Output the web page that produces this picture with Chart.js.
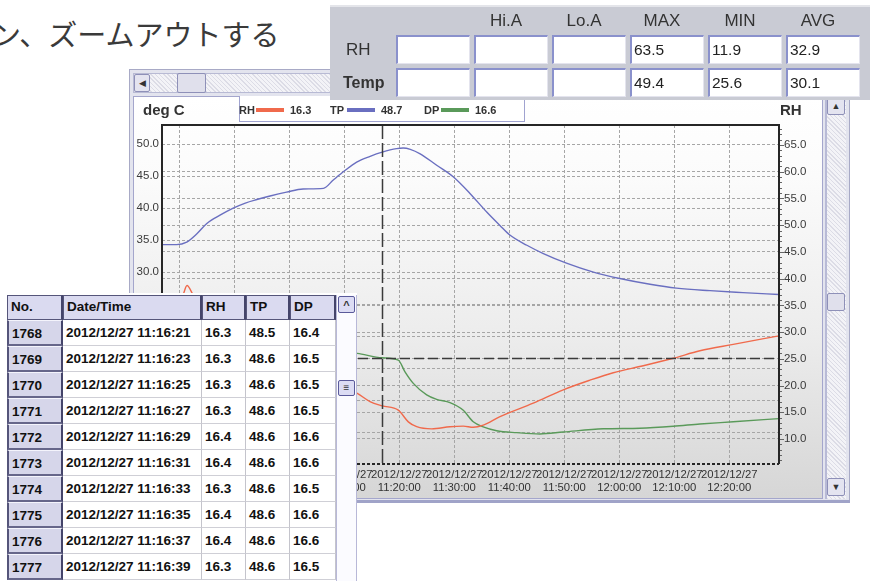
<!DOCTYPE html>
<html><head><meta charset="utf-8">
<script src="https://cdn.jsdelivr.net/npm/chart.js@4.4.1/dist/chart.umd.min.js"></script>
<style>
*{box-sizing:border-box;margin:0;padding:0}
html,body{width:870px;height:581px;overflow:hidden;background:#fff;font-family:"Liberation Sans",Arial,sans-serif}
#root{position:relative;width:870px;height:581px;overflow:hidden;background:#fff}
.a{position:absolute}
#jp{position:absolute;left:-8px;top:18px;font-family:"Noto Sans CJK JP",sans-serif;font-size:29px;line-height:30px;color:#3a3a3a;white-space:nowrap}
.hatch{background:repeating-linear-gradient(45deg,#dcdce6 0 1px,#f3f3f7 1px 3px)}
.btn{position:absolute;background:#e4e4f0;border:1px solid #8e90b8;border-radius:2px;color:#333;font-size:9px;text-align:center}
#panel{position:absolute;left:133px;top:96px;width:690px;height:403px;border:1px solid #a4a6cc;background:linear-gradient(#ffffff 0%,#fbfbfb 20%,#ececec 60%,#d6d6d6 100%)}
.stb{position:absolute;background:#fff;border-top:2px solid #8a91cc;border-left:2px solid #8a91cc;border-right:1px solid #e4e4ee;border-bottom:1px solid #e4e4ee;font-size:15.5px;color:#222;padding-left:2px;line-height:26px}
.sth{position:absolute;font-size:17px;color:#333;text-align:center;width:70px;line-height:20px}
.cell{position:absolute;font-weight:bold;font-size:13.5px;color:#111;line-height:25px;padding-left:3px;white-space:nowrap;overflow:hidden}
.lg{position:absolute;font-weight:bold;font-size:11px;color:#333;line-height:12px;top:104px}
.lbar{position:absolute;height:4px;top:108px}
</style></head><body>
<div id="root">
  <div id="jp">ン、ズームアウトする</div>

  <div id="win" class="a" style="left:129px;top:69px;width:721px;height:432px;background:#e3e4ee;border:1px solid #a8aac6"></div>
  <div class="a hatch" style="left:133px;top:73px;width:690px;height:20px;border:1px solid #b8bad4"></div>
  <div class="btn" style="left:134px;top:74px;width:16px;height:18px;line-height:16px">&#9664;</div>
  <div class="btn" style="left:177px;top:73px;width:29px;height:20px;background:#e0e0ec"></div>

  <div id="panel"><canvas id="c" width="688" height="401" style="position:absolute;left:0;top:0"></canvas></div>
  <div class="a" style="left:143px;top:102px;font-weight:bold;font-size:15px;color:#333;line-height:16px">deg C</div>
  <div class="a" style="left:780px;top:102px;font-weight:bold;font-size:15px;color:#333;line-height:16px">RH</div>
  <div id="legend" class="a" style="left:239px;top:96px;width:286px;height:26px;background:#fff;border:1px solid #a0a3d0;border-top:none"></div>

  <div class="a hatch" style="left:825px;top:96px;width:21px;height:403px;border-left:2px solid #b8bad6"></div>
  <div class="btn" style="left:827px;top:97px;width:18px;height:18px;line-height:16px">&#9650;</div>
  <div class="btn" style="left:827px;top:293px;width:18px;height:18px;background:#e0e0ec"></div>
  <div class="btn" style="left:827px;top:478px;width:18px;height:18px;line-height:16px">&#9660;</div>
  <div class="a" style="left:129px;top:500px;width:721px;height:3px;background:#a0a3c8"></div>

  <div id="stats" class="a" style="left:330px;top:5px;width:540px;height:95px;background:#c9cbd4;border-top:2px solid #e4e5ea"></div>

  <div id="tbl" class="a" style="left:0;top:293px;width:357px;height:288px;background:#fff"></div>
</div>
<script>
// ---------------- data ----------------
const dateLabel = "2012/12/27";
const tickTimes = ["10:40:00","10:50:00","11:00:00","11:10:00","11:20:00","11:30:00","11:40:00","11:50:00","12:00:00","12:10:00","12:20:00"];
const leftAxisTicks = [0,5,10,15,20,25,30,35,40,45,50];
const rightAxisTicks = [10,15,20,25,30,35,40,45,50,55,60,65];

// time in minutes after 10:00
const tpTime = [36.85,39.5,41.35,43.2,45.0,47.4,49.8,52.0,54.1,56.5,59.5,62.5,66.2,68.0,70.0,72.25,74.7,76.9,79.5,80.7,82.0,83.8,86.8,89.8,92.85,95.9,98.3,100.1,103.2,106.2,110.4,115.3,120.1,125.6,130.4,136.5,142.5,149.05];
const tpValues = [34.3,34.3,34.7,36.0,37.6,38.9,40.0,40.8,41.35,41.9,42.5,43.0,43.1,44.4,45.8,47.2,48.1,48.75,49.3,49.4,49.2,48.5,46.7,44.9,42.3,39.4,37.3,35.8,34.2,32.9,31.4,30.0,29.0,28.1,27.5,27.1,26.8,26.5];

const rhTime = [36.85,39.8,40.7,41.4,42.5,44.7,49.2,54.7,60.1,65.6,69.2,72.36,74.67,76.91,79.82,81.64,83.16,85.89,89.22,91.64,93.45,95.27,98.31,104.36,109.82,114.67,118.91,124.36,129.82,134.67,140.73,149.05];
const rhValues = [34.0,34.5,37.0,38.7,37.0,34.0,29.5,26.0,23.5,21.5,20.0,18.55,17.0,16.2,15.4,13.2,12.3,11.9,12.3,12.4,12.2,12.6,14.2,16.7,19.2,21.0,22.4,23.7,25.1,26.5,27.7,29.3];

const dpTime = [36.85,40.7,45.0,55.0,65.0,72.36,76.91,79.82,81.04,82.55,84.98,86.8,89.22,91.64,93.45,95.27,97.71,101.35,105.58,109.82,117.09,123.76,129.82,134.67,140.73,149.05];
const dpValues = [17.0,17.2,17.8,18.2,18.0,17.3,16.6,16.25,14.4,12.6,10.8,10.1,9.6,8.4,6.6,5.8,5.2,4.9,4.7,5.0,5.5,5.6,5.9,6.25,6.6,7.1];

const seriesNames = ["RH","TP","DP"];
const seriesColors = ["#f06a4c","#6a6fc0","#5a9a5a"];
const cursorTime = 76.9;           // 11:16:54
const cursorValues = [16.3,48.7,16.6];

const statHeaders = ["","Hi.A","Lo.A","MAX","MIN","AVG"];
const statRowNames = ["RH","Temp"];
const statRH = ["","","","63.5","11.9","32.9"];
const statTemp = ["","","","49.4","25.6","30.1"];

const tableHeaders = ["No.","Date/Time","RH","TP","DP"];
const tableNo = [1768,1769,1770,1771,1772,1773,1774,1775,1776,1777];
const tableTime = ["2012/12/27 11:16:21","2012/12/27 11:16:23","2012/12/27 11:16:25","2012/12/27 11:16:27","2012/12/27 11:16:29","2012/12/27 11:16:31","2012/12/27 11:16:33","2012/12/27 11:16:35","2012/12/27 11:16:37","2012/12/27 11:16:39"];
const tableRH = ["16.3","16.3","16.3","16.3","16.4","16.4","16.3","16.4","16.4","16.3"];
const tableTP = ["48.5","48.6","48.6","48.6","48.6","48.6","48.6","48.6","48.6","48.6"];
const tableDP = ["16.4","16.5","16.5","16.5","16.6","16.6","16.5","16.6","16.6","16.5"];

// ---------------- HTML parts ----------------
function el(parent, cls, style, text){ const d=document.createElement('div'); if(cls) d.className=cls; d.style.cssText=style; if(text!==undefined) d.textContent=text; parent.appendChild(d); return d; }
const root = document.getElementById('root');

// legend
const lgX = [239, 330, 424];
seriesNames.forEach((n,i)=>{
  el(root,'lg',`left:${lgX[i]}px`,n);
  el(root,'lbar',`left:${lgX[i]+17}px;width:28px;background:${seriesColors[i]}`);
  el(root,'lg',`left:${lgX[i]+51}px`,cursorValues[i].toFixed(1));
});

// stats
const boxX = [396,474,552,630,708,786];
statHeaders.forEach((h,i)=>{ if(h) el(root,'sth',`left:${boxX[i]+37-35-5}px;top:11px`,h); });
el(root,'a',`left:346px;top:38px;font-size:17px;color:#333;line-height:24px`,statRowNames[0]);
el(root,'a',`left:343px;top:71px;font-size:16px;font-weight:bold;color:#333;line-height:24px`,statRowNames[1]);
[statRH,statTemp].forEach((row,r)=>{
  row.forEach((v,i)=>{ el(root,'stb',`left:${boxX[i]}px;top:${r?68:35}px;width:74px;height:29px`,v); });
});

// table
const colX = [7,63,202,246,290,336];
const hy = 295, rh0 = 320, rowH = 26;
tableHeaders.forEach((h,i)=>{
  el(root,'cell',`left:${colX[i]}px;top:${hy}px;width:${colX[i+1]-colX[i]}px;height:25px;background:#dadaf0;border:1px solid #55557a;border-right:2px solid #44446a;line-height:22px`,h);
});
tableNo.forEach((n,r)=>{
  const y = rh0 + r*rowH;
  const vals = [String(n), tableTime[r], tableRH[r], tableTP[r], tableDP[r]];
  vals.forEach((v,i)=>{
    const st = i===0
      ? `background:#d6d6ea;border-top:1px solid #f4f4fc;border-left:2px solid #55557a;border-right:2px solid #44446a;border-bottom:2px solid #66668a;`
      : `background:#fff;border-right:1px solid #c4c4cc;border-bottom:1px solid #cfcfd6;`;
    el(root,'cell',`left:${colX[i]}px;top:${y}px;width:${colX[i+1]-colX[i]}px;height:${rowH}px;${st}`,v);
  });
});
el(root,'a',`left:336px;top:295px;width:21px;height:286px;background:#fbfbff;border-left:1px solid #b8b8d8;border-right:1px solid #b8b8d8`);
el(root,'btn',`left:338px;top:296px;width:17px;height:17px;line-height:16px;font-weight:bold;font-size:11px;border-color:#5a5a9a;background:#dcdcf4`,'^');
el(root,'btn',`left:338px;top:380px;width:17px;height:16px;line-height:14px;font-size:10px;border-color:#5a5a9a;background:#dcdcf4`,'≡');

// ---------------- chart ----------------
const toMin = s => { const p=s.split(':').map(Number); return (p[0]-10)*60+p[1]+p[2]/60; };
const tickMinutes = tickTimes.map(toMin);

const gridStyle = {color:'#a6a6a6', lineWidth:1, drawTicks:false};
const fontFam = '"Liberation Sans", Arial, sans-serif';

const framePlugin = {
  id:'frame',
  afterDatasetsDraw(chart){
    const {ctx, chartArea:a, scales} = chart;
    ctx.save();
    const cx = Math.round(scales.x.getPixelForValue(cursorTime))+0.5;
    const cy = Math.round(scales.yL.getPixelForValue(cursorValues[2]))+0.5;
    ctx.strokeStyle='#3a3a3a'; ctx.lineWidth=1.5;
    ctx.setLineDash([14,4]);
    ctx.beginPath(); ctx.moveTo(cx,a.top); ctx.lineTo(cx,a.bottom); ctx.stroke();
    ctx.setLineDash([10,4]);
    ctx.beginPath(); ctx.moveTo(a.left,cy); ctx.lineTo(a.right,cy); ctx.stroke();
    ctx.setLineDash([]); ctx.strokeStyle='#262626'; ctx.lineWidth=2;
    ctx.beginPath(); ctx.moveTo(a.left,a.bottom); ctx.lineTo(a.left,a.top); ctx.lineTo(a.right,a.top); ctx.lineTo(a.right,a.bottom); ctx.stroke();
    ctx.setLineDash([3,2]);
    ctx.beginPath(); ctx.moveTo(a.left,a.bottom); ctx.lineTo(a.right,a.bottom); ctx.stroke();
    ctx.setLineDash([]); ctx.lineWidth=1; ctx.strokeStyle='#666';
    const yR = scales.yR;
    for(let v=Math.ceil(yR.min); v<=yR.max; v++){
      const y = Math.round(yR.getPixelForValue(v))+0.5;
      ctx.beginPath(); ctx.moveTo(a.right+1,y); ctx.lineTo(a.right+(v%5===0?5:3),y); ctx.stroke();
    }
    ctx.restore();
  }
};

const mk = (i, t, v, axis) => ({
  label: seriesNames[i], data: t.map((x,k)=>({x, y:v[k]})), borderColor: seriesColors[i],
  borderWidth:1.4, pointRadius:0, cubicInterpolationMode:'monotone', yAxisID:axis, fill:false
});

new Chart(document.getElementById('c'), {
  type:'line',
  data:{datasets:[ mk(0,rhTime,rhValues,'yR'), mk(1,tpTime,tpValues,'yL'), mk(2,dpTime,dpValues,'yL') ]},
  options:{
    responsive:false, animation:false, devicePixelRatio:1,
    layout:{padding:{top:28,left:0,right:0,bottom:0}},
    plugins:{legend:{display:false}, tooltip:{enabled:false}},
    scales:{
      x:{type:'linear', min:36.85, max:149.05,
         afterBuildTicks:s=>{ s.ticks = tickMinutes.map(v=>({value:v})); },
         afterFit:s=>{ s.height = 34; },
         ticks:{autoSkip:false, maxRotation:0, minRotation:0, padding:4, color:'#333',
                font:{family:fontFam, size:11.3, lineHeight:1.15},
                callback:(v,i)=>[dateLabel, tickTimes[i]]},
         grid:gridStyle, border:{display:false, dash:[3,2]}},
      yL:{position:'left', min:0, max:53,
          afterBuildTicks:s=>{ s.ticks = leftAxisTicks.map(v=>({value:v})); },
          afterFit:s=>{ s.width = 28; },
          ticks:{padding:3, color:'#3a3a3a', font:{family:fontFam, size:11.5}, callback:v=>Number(v).toFixed(1)},
          grid:gridStyle, border:{display:false, dash:[3,2]}},
      yR:{position:'right', min:5.32, max:68.74,
          afterBuildTicks:s=>{ s.ticks = rightAxisTicks.map(v=>({value:v})); },
          afterFit:s=>{ s.width = 43; },
          ticks:{padding:5, color:'#3a3a3a', font:{family:fontFam, size:11.5}, callback:v=>Number(v).toFixed(1)},
          grid:gridStyle, border:{display:false, dash:[3,2]}}
    }
  },
  plugins:[framePlugin]
});
</script>
</body></html>
